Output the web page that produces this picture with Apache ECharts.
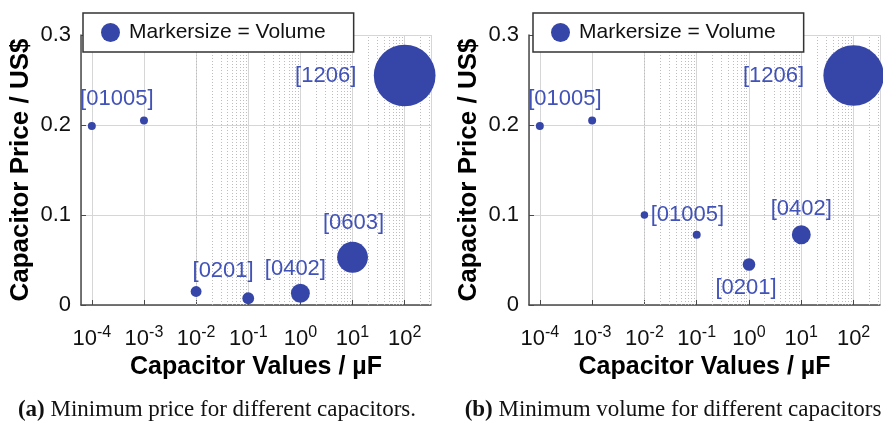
<!DOCTYPE html>
<html><head><meta charset="utf-8">
<script src="https://cdn.jsdelivr.net/npm/echarts@6/dist/echarts.min.js"></script>
<style>html,body{margin:0;padding:0;background:#fff}#c{width:883px;height:427px}</style>
</head><body><div id="c"></div>
<script>
// ---- data ----
const capValues = [1e-4, 1e-3, 1e-2, 1e-1, 1e0, 1e1, 1e2];          // µF
const priceA   = [0.199, 0.205, 0.015, 0.0075, 0.013, 0.053, 0.255];  // US$
const volumeA  = [0.016, 0.016, 0.030, 0.035, 0.090, 0.240, 0.960];   // relative volume
const priceB   = [0.199, 0.205, 0.100, 0.078, 0.045, 0.078, 0.255];
const volumeB  = [0.016, 0.016, 0.014, 0.016, 0.040, 0.090, 0.920];
const labelsA  = ['[01005]', '', '[0201]', '', '[0402]', '[0603]', '[1206]'];
const labelsB  = ['[01005]', '', '[01005]', '', '[0201]', '[0402]', '[1206]'];
const yTicks   = [0, 0.1, 0.2, 0.3];
const legendText = 'Markersize = Volume';
const captionA = ['(a)', ' Minimum price for different capacitors.'];
const captionB = ['(b)', ' Minimum volume for different capacitors'];

// ---- style ----
const offsetsA = [[25,-27], null, [27,-21], null, [-5,-24], [1,-34], [-79,0]];
const offsetsB = [[25,-27], null, [43,0], null, [-3,23], [0,-26], [-80,0]];
const MARK = '#3545a8', LAB = '#4152b8', AX = '#4a4a4a';
const SANS = 'Liberation Sans', SERIF = 'Liberation Serif';
const sizeScale = 63;
const xMin = 6.2e-5, xMax = 3.2e2;

function minorLines() {
  const out = [];
  for (let e = -5; e <= 2; e++) {
    for (let m = 2; m <= 9; m++) {
      const v = m * Math.pow(10, e);
      if (v > xMin && v < xMax) out.push({ xAxis: v });
    }
  }
  return out;
}

function points(prices, vols, labels, offs) {
  return capValues.map((c, i) => ({
    value: [c, prices[i], vols[i]],
    label: labels[i] ? { show: true, formatter: labels[i], position: 'inside', offset: offs[i] } : { show: false }
  }));
}

function xAxisCfg(gi) {
  return {
    type: 'log', logBase: 10, gridIndex: gi, min: xMin, max: xMax,
    name: 'Capacitor Values / µF', nameLocation: 'middle', nameGap: 50,
    nameTextStyle: { fontFamily: SANS, fontSize: 25, fontWeight: 'bold', color: '#000' },
    axisLine: { show: true, lineStyle: { color: AX, width: 1.5 } },
    axisTick: { show: true, inside: true, length: 5, lineStyle: { color: AX } },
    splitLine: { show: true, lineStyle: { color: '#d6d6d6', width: 1 } },
    axisLabel: {
      showMinLabel: false, showMaxLabel: false, margin: 20,
      formatter: v => '{b|10}{s|' + Math.round(Math.log10(v)) + '}',
      rich: {
        b: { fontFamily: SANS, fontSize: 22, color: '#111', lineHeight: 28 },
        s: { fontFamily: SANS, fontSize: 16, color: '#111', verticalAlign: 'top', lineHeight: 16 }
      }
    }
  };
}
function yAxisCfg(gi) {
  return {
    type: 'value', gridIndex: gi, min: yTicks[0], max: yTicks[yTicks.length - 1], interval: 0.1,
    name: 'Capacitor Price / US$', nameLocation: 'middle', nameGap: 47,
    nameTextStyle: { fontFamily: SANS, fontSize: 26, fontWeight: 'bold', color: '#000' },
    axisLine: { show: true, lineStyle: { color: AX, width: 1.5 } },
    axisTick: { show: true, inside: true, length: 5, lineStyle: { color: AX } },
    splitLine: { show: true, lineStyle: { color: '#d6d6d6', width: 1 } },
    axisLabel: { fontFamily: SANS, fontSize: 22, color: '#111', margin: 10 }
  };
}
function gridLineSeries(gi) {
  return {
    type: 'line', xAxisIndex: gi, yAxisIndex: gi, data: [], z: 1, silent: true,
    markLine: {
      silent: true, symbol: ['none', 'none'], animation: false,
      label: { show: false },
      lineStyle: { color: '#bdbdbd', type: [1, 2], width: 1 },
      emphasis: { disabled: true },
      data: minorLines()
    }
  };
}
function scatterSeries(gi, prices, vols, labels, offs) {
  return {
    name: legendText, type: 'scatter', xAxisIndex: gi, yAxisIndex: gi, z: 5, clip: false,
    symbol: 'circle', symbolSize: d => sizeScale * Math.sqrt(d[2]),
    itemStyle: { color: MARK, opacity: 1 },
    label: { fontFamily: SANS, fontSize: 22, color: LAB },
    data: points(prices, vols, labels, offs)
  };
}
function legendCfg(left) {
  return {
    left: left, top: 13, orient: 'horizontal',
    data: [{ name: legendText, icon: 'circle' }],
    itemWidth: 19, itemHeight: 19, itemGap: 0,
    padding: [9, 28, 9, 18],
    borderColor: '#333', borderWidth: 1.5, backgroundColor: '#fff',
    textStyle: { fontFamily: SANS, fontSize: 21, color: '#111', padding: [0, 0, 0, 4] },
    selectedMode: false, z: 10
  };
}

const chart = echarts.init(document.getElementById('c'), null, { renderer: 'canvas' });
chart.setOption({
  animation: false,
  backgroundColor: '#fff',
  grid: [
    { left: 81, top: 35, width: 350, height: 270 },
    { left: 529, top: 35, width: 351, height: 270 }
  ],
  xAxis: [xAxisCfg(0), xAxisCfg(1)],
  yAxis: [yAxisCfg(0), yAxisCfg(1)],
  legend: [legendCfg(83), legendCfg(533)],
  series: [
    gridLineSeries(0), gridLineSeries(1),
    scatterSeries(0, priceA, volumeA, labelsA, offsetsA),
    scatterSeries(1, priceB, volumeB, labelsB, offsetsB)
  ],
  graphic: [
    { type: 'text', x: 217, y: 410, style: {
      text: '{b|' + captionA[0] + '}{r|' + captionA[1] + '}', align: 'center', verticalAlign: 'middle',
      rich: { b: { fontFamily: SERIF, fontSize: 23, fontWeight: 'bold', fill: '#111' },
              r: { fontFamily: SERIF, fontSize: 23, fill: '#111' } } } },
    { type: 'text', x: 673, y: 410, style: {
      text: '{b|' + captionB[0] + '}{r|' + captionB[1] + '}', align: 'center', verticalAlign: 'middle',
      rich: { b: { fontFamily: SERIF, fontSize: 23, fontWeight: 'bold', fill: '#111' },
              r: { fontFamily: SERIF, fontSize: 23, fill: '#111' } } } }
  ]
});
</script></body></html>
